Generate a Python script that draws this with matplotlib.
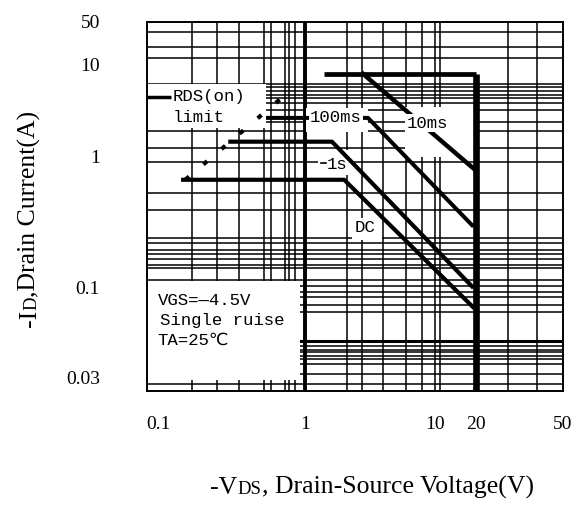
import numpy as np
import matplotlib
matplotlib.use("Agg")
import matplotlib.pyplot as plt
from matplotlib.patches import Rectangle
from matplotlib.ticker import FixedLocator, FixedFormatter, NullLocator

# ---------------- data ----------------
voltage_ticks = [0.1, 1, 10, 20, 50]
voltage_tick_labels = ["0.1", "1", "10", "20", "50"]
current_ticks = [0.03, 0.1, 1, 10, 50]
current_tick_labels = ["0.03", "0.1", "1", "10", "50"]

# pulsed current limit and VDS(max) limit
limit_v = [1.40, 20.0, 20.0]
limit_i = [8.0, 8.0, 0.025]
# 10 ms single pulse
ms10_v = [2.79, 19.0]
ms10_i = [8.0, 0.82]
# 100 ms
ms100_v = [0.56, 3.05, 18.7]
ms100_i = [2.65, 2.65, 0.30]
# 1 s
s1_v = [0.31, 1.61, 18.7]
s1_i = [1.46, 1.46, 0.102]
# DC
dc_v = [0.148, 2.0, 19.0]
dc_i = [0.667, 0.667, 0.077]
# RDS(on) limit
rds_v = [0.153, 0.73]
rds_i = [0.667, 4.7]

# hand-ruled grid of the chart paper (volts / amps)
volt_grid = [0.170, 0.252, 0.356, 0.526, 0.588, 0.731, 0.778, 0.855,
             2.10, 2.74, 3.98, 5.98, 7.94, 10.0, 10.9, 28.0, 38.0]
volt_grid_heavy = [1.0]
amp_grid = [34.4, 19.6, 13.0, 6.22, 5.77, 5.22, 4.72, 4.38, 3.86, 3.24,
            2.40, 1.92, 1.25, 0.916, 0.531, 0.394, 0.241, 0.221, 0.195,
            0.179, 0.164, 0.150, 0.142, 0.115, 0.102, 0.0948, 0.0887,
            0.0796, 0.0725, 0.0454, 0.0436, 0.0419, 0.0397, 0.0382,
            0.0357, 0.0312, 0.0273]
amp_grid_heavy = [0.0486]

# ---------------- axis scales (piecewise logarithmic paper) ----------------
X_KNOT_VAL = [1e-3, 0.1, 1, 10, 20, 50, 1e3]
X_KNOT_POS = [-283, 11, 158, 288, 329, 416, 697]
Y_KNOT_VAL = [1e-4, 0.03, 0.1, 1, 10, 50, 1e4]
Y_KNOT_POS = [-413, 13, 103, 234, 326, 369, 516]


def paper_scale(knot_val, knot_pos):
    lv = np.log10(np.asarray(knot_val, float))
    kp = np.asarray(knot_pos, float)

    def fwd(v):
        v = np.asarray(v, float)
        with np.errstate(divide="ignore", invalid="ignore"):
            lg = np.log10(np.where(v > 0, v, np.nan))
        return np.interp(lg, lv, kp)

    def inv(p):
        return 10 ** np.interp(np.asarray(p, float), kp, lv)

    return fwd, inv


W_PX, H_PX = 580, 507
fig = plt.figure(figsize=(W_PX / 100, H_PX / 100), dpi=100)
fig.patch.set_facecolor("white")
ax = fig.add_axes([147 / W_PX, 116 / H_PX, 416 / W_PX, 369 / H_PX])

ax.set_xscale("function", functions=paper_scale(X_KNOT_VAL, X_KNOT_POS))
ax.set_yscale("function", functions=paper_scale(Y_KNOT_VAL, Y_KNOT_POS))
ax.set_xlim(0.084, 50)
ax.set_ylim(0.025, 50)

ax.xaxis.set_major_locator(FixedLocator(voltage_ticks))
ax.xaxis.set_major_formatter(FixedFormatter(voltage_tick_labels))
ax.yaxis.set_major_locator(FixedLocator(current_ticks))
ax.yaxis.set_major_formatter(FixedFormatter(current_tick_labels))
ax.xaxis.set_minor_locator(NullLocator())
ax.yaxis.set_minor_locator(NullLocator())

serif = "Liberation Serif"
mono = ["Liberation Mono", "DejaVu Sans Mono", "DejaVu Sans"]
ax.tick_params(axis="x", length=0, pad=18, labelsize=14)
ax.tick_params(axis="y", length=0, pad=34, labelsize=14)
for lab in ax.get_xticklabels() + ax.get_yticklabels():
    lab.set_family(serif)

for s in ax.spines.values():
    s.set_linewidth(1.4)
    s.set_color("black")
    s.set_zorder(6)

# grid
for v in volt_grid:
    ax.axvline(v, color="black", lw=1.1, zorder=1)
for v in volt_grid_heavy:
    ax.axvline(v, color="black", lw=2.8, zorder=1)
for a in amp_grid:
    ax.axhline(a, color="black", lw=1.1, zorder=1)
for a in amp_grid_heavy:
    ax.axhline(a, color="black", lw=2.2, zorder=1)

# cleared areas behind annotations
for (x0, y0, w, h) in [(0.0, 0.713, 0.286, 0.119),
                       (0.382, 0.702, 0.149, 0.065),
                       (0.620, 0.634, 0.166, 0.136),
                       (0.411, 0.585, 0.077, 0.068),
                       (0.493, 0.409, 0.072, 0.060),
                       (0.0, 0.030, 0.368, 0.268)]:
    ax.add_patch(Rectangle((x0, y0), w, h, transform=ax.transAxes,
                           facecolor="white", edgecolor="none", zorder=2))

# SOA curves
ax.plot(limit_v[:2], limit_i[:2], color="black", lw=3.4, zorder=3,
        solid_capstyle="butt")
ax.plot(limit_v[1:], limit_i[1:], color="black", lw=4.8, zorder=3,
        solid_capstyle="butt")
ax.plot(ms10_v, ms10_i, color="black", lw=3.2, zorder=3)
ax.plot(ms100_v, ms100_i, color="black", lw=2.9, zorder=3)
ax.plot(s1_v, s1_i, color="black", lw=3.0, zorder=3)
ax.plot(dc_v, dc_i, color="black", lw=3.0, zorder=3)
ax.plot(rds_v, rds_i, color="black", lw=3.0, zorder=3,
        linestyle=(0, (1.2, 4.5)))

# annotations
tbox = dict(boxstyle="square,pad=0.08", facecolor="white", edgecolor="none")
txt = dict(transform=ax.transAxes, family=mono, fontsize=12.5,
           ha="left", va="center", zorder=5)
ax.plot([0.0, 0.058], [0.797, 0.797], transform=ax.transAxes,
        color="black", lw=2.5, zorder=4, solid_capstyle="butt")
ax.text(0.0625, 0.797, "RDS(on)", **txt)
ax.text(0.0625, 0.740, "limit", **txt)
ax.text(0.392, 0.740, "100ms", bbox=tbox, **txt)
ax.text(0.625, 0.726, "10ms", bbox=tbox, **txt)
ax.plot([0.418, 0.431], [0.617, 0.617], transform=ax.transAxes,
        color="black", lw=1.2, zorder=4)
ax.text(0.433, 0.615, "1s", **txt)
ax.text(0.498, 0.442, "DC", **txt)
ax.text(0.026, 0.244, "VGS=—4.5V", **txt)
ax.text(0.031, 0.190, "Single ruise", **txt)
ax.text(0.026, 0.138, "TA=25℃", **txt)


# axis titles with small-capital subscripts
def place_runs(x, y, runs, rotation=0):
    r = fig.canvas.get_renderer()
    widths = []
    for s, fs in runs:
        t = fig.text(0, 0, s, fontsize=fs, family=serif)
        widths.append(t.get_window_extent(r).width)
        t.remove()
    off = -sum(widths) / 2
    for (s, fs), w in zip(runs, widths):
        if rotation == 0:
            fig.text(x + off / W_PX, y, s, fontsize=fs, family=serif,
                     ha="left", va="baseline")
        else:
            fig.text(x, y + off / H_PX, s, fontsize=fs, family=serif,
                     rotation=90, rotation_mode="anchor",
                     ha="left", va="baseline")
        off += w


place_runs(372 / W_PX, (H_PX - 494) / H_PX,
           [("-V", 18.5), ("DS", 13.5), (", Drain-Source Voltage(V)", 18.5)])
place_runs(36 / W_PX, (H_PX - 219) / H_PX,
           [("-I", 18.5), ("D", 13.5), (",Drain Current(A)", 18.5)],
           rotation=90)

fig.savefig("out.png", dpi=100)
